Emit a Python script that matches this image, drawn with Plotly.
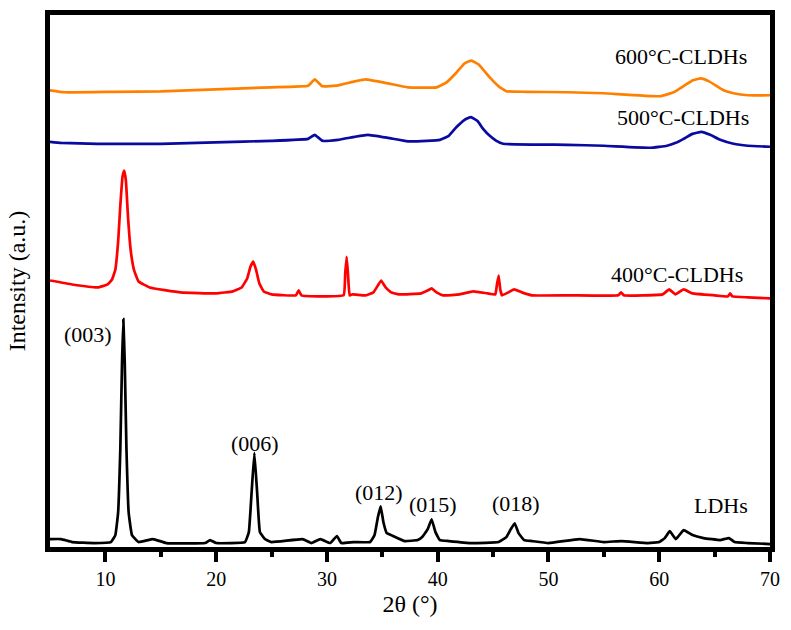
import plotly.graph_objects as go

# ---- data (x = 2θ in degrees, y = stacked intensity, arbitrary units) ----
ldh_points = [(5, 8), (6, 8), (7, 5), (9, 4), (10.5, 5), (10.9, 12), (11.15, 35), (11.35, 100),
              (11.5, 185), (11.62, 230), (11.75, 185), (11.9, 100), (12.1, 35), (12.4, 12), (13, 5),
              (14.3, 8), (15.5, 4), (19, 4), (19.45, 7), (20, 4), (22.6, 5), (22.95, 15), (23.2, 55),
              (23.45, 95), (23.7, 55), (23.95, 15), (24.4, 8), (25, 5), (27.8, 8), (28.6, 4), (29.4, 8),
              (30.3, 4), (30.9, 11), (31.3, 4), (32.4, 5), (33.9, 5), (34.3, 12), (34.6, 30), (34.85, 41),
              (35.1, 25), (35.4, 14), (35.8, 12), (37, 6), (38.2, 7), (38.6, 10), (39.1, 18), (39.45, 28),
              (39.8, 15), (40.2, 7), (41, 6), (43, 4), (45.5, 5), (46.2, 10), (46.6, 18), (46.95, 24),
              (47.3, 14), (47.8, 7), (48.5, 6), (50, 4), (52.8, 8), (55, 5), (56.6, 6), (59, 4), (60, 5),
              (60.5, 9), (60.95, 16), (61.5, 8), (62.2, 17), (63, 12), (64, 9), (65.5, 7), (66.3, 9),
              (66.8, 5), (68, 4), (70, 3)]

c400_points = [(5, 269), (7, 265), (9.3, 262), (10.2, 265), (10.6, 270), (10.9, 280), (11.15, 308),
               (11.35, 345), (11.55, 374), (11.7, 380), (11.85, 370), (12.05, 332), (12.3, 298),
               (12.6, 279), (13, 268), (14, 262), (16.8, 257), (20, 256), (21.5, 258), (22.3, 262),
               (22.8, 271), (23.1, 283), (23.35, 288), (23.6, 280), (23.9, 266), (24.3, 258), (25, 255),
               (27.2, 254), (27.45, 259), (27.7, 254), (31.5, 254), (31.65, 276), (31.78, 293),
               (31.9, 276), (32.05, 254), (32.3, 255), (33.5, 254), (34.2, 257), (34.6, 264), (34.9, 269),
               (35.3, 262), (35.8, 257), (36.5, 255), (38.5, 256), (39.1, 259), (39.45, 261), (39.9, 257),
               (40.5, 254), (42, 255), (43.2, 258), (44.5, 256), (45.2, 255), (45.35, 265), (45.5, 274),
               (45.65, 260), (45.8, 254), (46.2, 256), (46.9, 260), (47.6, 257), (48.5, 254), (52, 254),
               (56.3, 254), (56.55, 257), (56.8, 254), (60.3, 255), (60.9, 260), (61.45, 255), (62.2, 260),
               (63, 256), (65, 254), (66.2, 253), (66.4, 256), (66.6, 253), (68, 252), (70, 251)]

c500_points = [(5, 409), (6, 408), (9.3, 407), (15, 407), (19.9, 408.5), (25, 410), (28.3, 412),
               (28.9, 416), (29.6, 410), (31, 411), (32.5, 414), (33.7, 416), (35.5, 413), (37.3, 409.5),
               (39, 410), (40.2, 411), (41, 415), (41.7, 424), (42.4, 431), (43, 434), (43.6, 430),
               (44.1, 422), (44.7, 415), (45.3, 410), (45.9, 407), (51.7, 406), (55, 405), (59.2, 403),
               (60.7, 405), (61.5, 408), (62.2, 412), (63, 417), (63.8, 419), (64.6, 416), (65.5, 411),
               (66.7, 407), (68, 405), (70, 404)]

c600_points = [(5, 461), (6.3, 459), (10.8, 459.5), (15, 460), (19.9, 462), (25, 464), (28.3, 465.5),
               (28.9, 472), (29.6, 465), (31, 466), (32.5, 470), (33.5, 472), (35.5, 468), (37.3, 464),
               (39.9, 464), (40.8, 469), (41.7, 479), (42.4, 488), (43.05, 491), (43.7, 487), (44.7, 474),
               (45.5, 465), (46.2, 460), (48, 459.5), (51.7, 459), (55, 458), (60.1, 455), (61.3, 459),
               (62.3, 466), (63, 471), (63.75, 473), (64.5, 470), (65.8, 461), (66.7, 458), (68, 456),
               (70, 456)]

series_names = ["LDHs", "400°C-CLDHs", "500°C-CLDHs", "600°C-CLDHs"]
series_points = [ldh_points, c400_points, c500_points, c600_points]
series_colors = ["#000000", "#FF0000", "#0A0AA0", "#FF8000"]

x_ticks = [10, 20, 30, 40, 50, 60, 70]
minor_ticks = [15, 25, 35, 45, 55, 65]

# labels: (text, x, y)
peak_labels = [("(003)", 8.43, 214), ("(006)", 23.5, 104), ("(012)", 34.7, 55),
               ("(015)", 39.6, 43), ("(018)", 47.1, 44)]
curve_labels = [("LDHs", 65.6, 42), ("400°C-CLDHs", 61.6, 275),
                ("500°C-CLDHs", 62.15, 434), ("600°C-CLDHs", 62.0, 495)]

FONT = "Liberation Serif, Times New Roman, serif"

fig = go.Figure()
for name, pts, col in zip(series_names, series_points, series_colors):
    fig.add_trace(go.Scatter(
        x=[p[0] for p in pts], y=[p[1] for p in pts], mode="lines", name=name,
        line=dict(color=col, width=2.7, shape="spline", smoothing=0.3),
        showlegend=False, hoverinfo="skip"))

for text, x, y in peak_labels + curve_labels:
    fig.add_annotation(x=x, y=y, xref="x", yref="y", text=text, showarrow=False,
                       xanchor="center", yanchor="middle",
                       font=dict(family=FONT, size=22, color="black"))

fig.update_layout(
    width=791, height=630,
    margin=dict(l=50, r=21, t=10, b=83),
    paper_bgcolor="white", plot_bgcolor="white",
    font=dict(family=FONT, color="black"),
    xaxis=dict(
        range=[5, 70], tickvals=x_ticks, ticks="outside", ticklen=10, tickwidth=3.5,
        tickcolor="black", showline=True, linewidth=4.5, linecolor="black", mirror=True,
        showgrid=False, zeroline=False, tickfont=dict(family=FONT, size=20, color="black"),
        minor=dict(tickvals=minor_ticks, ticks="outside", ticklen=5, tickwidth=3.5, tickcolor="black",
                   showgrid=False),
        title=dict(text="2θ (°)", font=dict(family=FONT, size=24, color="black"), standoff=8),
    ),
    yaxis=dict(
        range=[0, 537], showticklabels=False, ticks="", showline=True, linewidth=4.5,
        linecolor="black", mirror=True, showgrid=False, zeroline=False,
        title=dict(text="Intensity (a.u.)", font=dict(family=FONT, size=24, color="black"),
                   standoff=14),
    ),
)

fig.write_html("out.html")
